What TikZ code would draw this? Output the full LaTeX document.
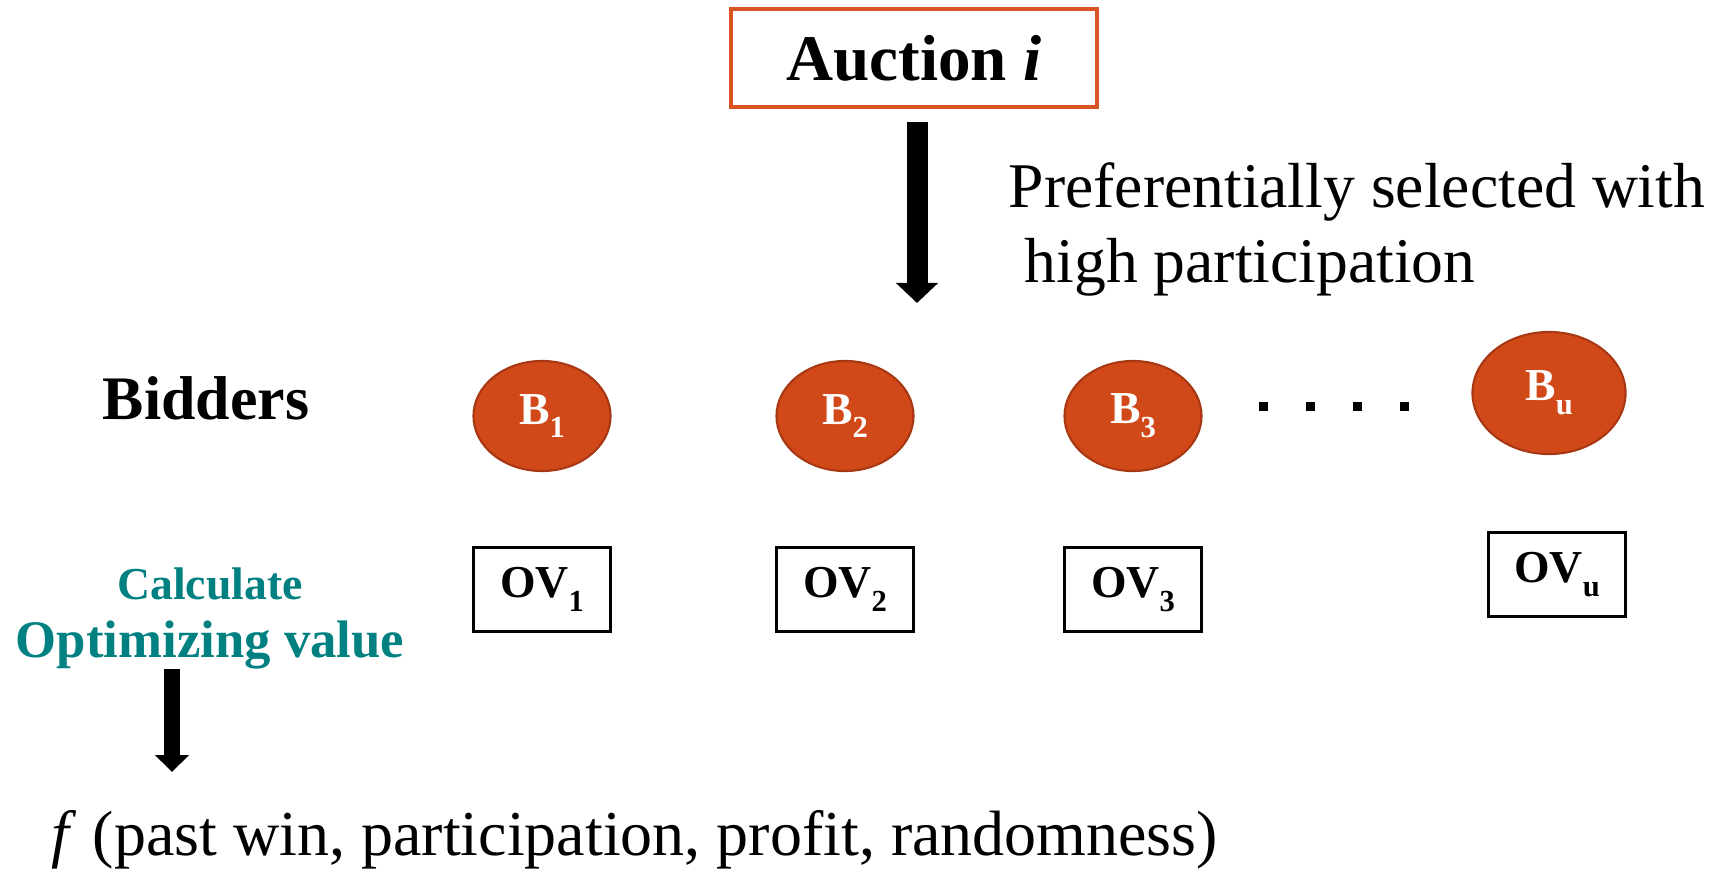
\documentclass[tikz,border=0pt]{standalone}
\usepackage{fontspec}
\setmainfont{Liberation Serif}
\usetikzlibrary{shapes.geometric,arrows.meta,positioning}
\definecolor{bidfill}{RGB}{209,73,24}
\definecolor{biddraw}{RGB}{168,56,20}
\definecolor{auctborder}{RGB}{217,84,34}
\definecolor{calcteal}{RGB}{0,128,128}
\newcommand{\lowsub}[1]{\raisebox{-0.3em}{\fontsize{8.7}{10}\selectfont #1}} % subscript, set low
\begin{document}
\begin{tikzpicture}[x=0.01cm,y=-0.01cm] % one unit = one pixel of the picture
\tikzstyle{myauction} = [draw=auctborder, line width=1.1pt, minimum width=3.65cm, minimum height=0.98cm, inner sep=0pt, font=\fontsize{18.5}{22}\selectfont\bfseries] % auction box style
\tikzstyle{mybidder} = [ellipse, fill=bidfill, draw=biddraw, line width=0.6pt, minimum width=1.37cm, minimum height=1.10cm, inner sep=0pt, text=white, font=\fontsize{13}{15}\selectfont\bfseries] % bidder node style
\tikzstyle{myov} = [draw, line width=0.7pt, minimum width=1.37cm, minimum height=0.84cm, inner sep=0pt, font=\fontsize{13}{15}\selectfont\bfseries] % optimizing value box
\tikzstyle{mytext} = [inner sep=0pt, anchor=base west, font=\fontsize{18.1}{22}\selectfont] % plain text
\tikzstyle{mycalc} = [inner sep=0pt, anchor=base, text=calcteal, font=\bfseries] % teal text
\tikzstyle{myarrow} = [-{Triangle[width=0.41cm,length=0.2cm]}, line width=0.21cm] % big arrow
\tikzstyle{mysmallarrow} = [-{Triangle[width=0.33cm,length=0.17cm]}, line width=0.16cm]
\useasboundingbox (0,0) rectangle (1716,870);
\node[myauction] (auction) at (914,58) {Auction \textit{i}};
\coordinate (seltip) at (917,303);
\draw[myarrow, shorten <=0.13cm] (auction.south -| seltip) -- (seltip);
\node[mytext] (pref1) at (1008,208) {Preferentially selected with};
\node[mytext] (pref2) at (1024,282) {high participation};
\node[inner sep=0pt, anchor=base, font=\fontsize{17.6}{20}\selectfont\bfseries] (bidders) at (206,419) {Bidders};
% bidders
\node[mybidder] (b1) at (542,416) {B\lowsub{1}};
\node[mybidder] (b2) at (845,416) {B\lowsub{2}};
\node[mybidder] (b3) at (1133,416) {B\lowsub{3}};
\node[mybidder, minimum width=1.53cm, minimum height=1.22cm] (bu) at (1549,393) {B\lowsub{u}};
\foreach \x in {1263,1310,1357,1404}
    \fill (\x-4.5,402) rectangle ++(9,9);
% optimizing values
\node[myov, below=0.74cm of b1] (ov1) {OV\lowsub{1}};
\node[myov, below=0.74cm of b2] (ov2) {OV\lowsub{2}};
\node[myov, below=0.74cm of b3] (ov3) {OV\lowsub{3}};
\node[myov, below=0.76cm of bu, xshift=0.08cm] (ovu) {OV\lowsub{u}};
\node[mycalc, font=\fontsize{13}{15}\selectfont\bfseries] (calc1) at (210,599) {Calculate};
\node[mycalc, font=\fontsize{15}{18}\selectfont\bfseries] (calc2) at (210,657) {Optimizing value};
\coordinate (ftip) at (172,772);
\draw[mysmallarrow] (calc2.south -| ftip) -- (ftip);
\node[mytext, font=\fontsize{18.2}{22}\selectfont] (func) at (51,855) {\textit{f} (past win, participation, profit, randomness)};
\end{tikzpicture}
\end{document}
